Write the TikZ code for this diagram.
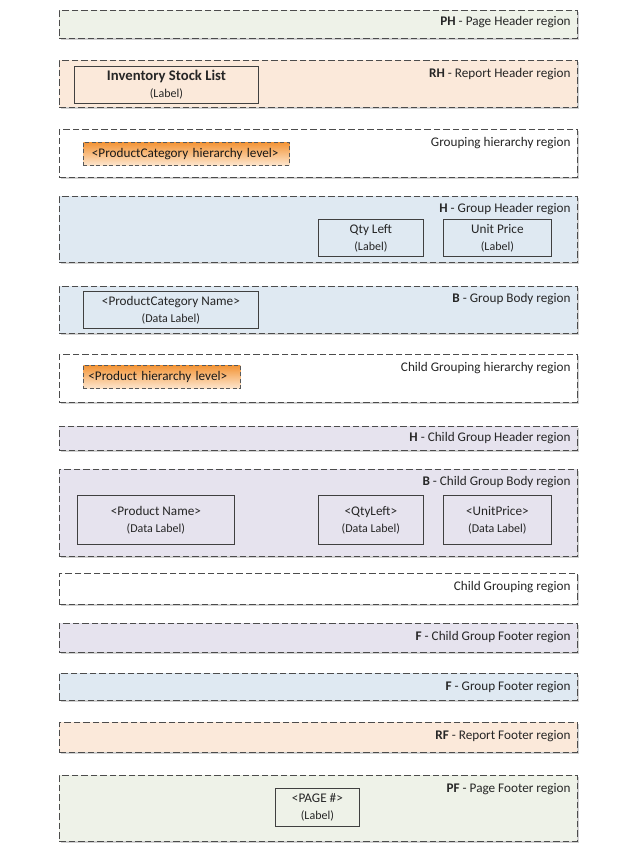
\documentclass[tikz,border=0pt]{standalone}
\usepackage{fontspec}
\setmainfont{Carlito}
\usetikzlibrary{shadows}
\definecolor{pagefill}{HTML}{EEF2E8}
\definecolor{reportfill}{HTML}{FBE9DA}
\definecolor{groupfill}{HTML}{DFE9F2}
\definecolor{childfill}{HTML}{E6E3EE}
\definecolor{levtop}{HTML}{F39436}
\definecolor{levbot}{HTML}{FDE6CE}
\tikzstyle{region} = [rectangle, draw=black!70, dash pattern=on 6.5pt off 3pt, line width=0.8pt,
	anchor=north west, inner sep=0pt, minimum width=518pt,
	drop shadow={shadow xshift=1.2pt, shadow yshift=-1.5pt, fill=black!30, opacity=0.6}]
\tikzstyle{regionlabel} = [anchor=east, inner sep=0pt, text=black!85, font=\fontsize{13.2}{15}\selectfont]
\tikzstyle{field} = [rectangle, draw=black!75, line width=0.8pt, anchor=north west, inner sep=0pt,
	align=center, text=black!85, font=\fontsize{13.2}{17}\selectfont]
\tikzstyle{level} = [rectangle, draw=black!65, dash pattern=on 4pt off 2.5pt, line width=0.8pt,
	top color=levtop, bottom color=levbot, anchor=north west, inner ysep=0pt, align=left,
	minimum height=23pt, text=black!90, font=\fontsize{13.2}{15}\selectfont]
\newcommand{\sublabel}[1]{{\fontsize{12}{17}\selectfont #1}}

\begin{document}
\begin{tikzpicture}[x=1pt, y=-1pt]
	\useasboundingbox (0,0) rectangle (641,850);
	%Regions
	\node [region, fill=pagefill, minimum height=28pt] (ph) at (59,10) {};
	\node [region, fill=reportfill, minimum height=47pt] (rh) at (59,60) {};
	\node [region, fill=white, minimum height=48pt] (grp) at (59,129) {};
	\node [region, fill=groupfill, minimum height=66pt] (gh) at (59,196) {};
	\node [region, fill=groupfill, minimum height=47pt] (gb) at (59,286) {};
	\node [region, fill=white, minimum height=48pt] (cgrp) at (59,354) {};
	\node [region, fill=childfill, minimum height=24pt] (cgh) at (59,426) {};
	\node [region, fill=childfill, minimum height=87pt] (cgb) at (59,469) {};
	\node [region, fill=white, minimum height=31pt] (cg) at (59,573) {};
	\node [region, fill=childfill, minimum height=29pt] (cgf) at (59,623) {};
	\node [region, fill=groupfill, minimum height=27pt] (gf) at (59,673) {};
	\node [region, fill=reportfill, minimum height=30pt] (rf) at (59,722) {};
	\node [region, fill=pagefill, minimum height=66pt] (pf) at (59,775) {};
	
	%Region labels
	\node [regionlabel] (phlbl) at ([xshift=-7pt, yshift=-12.5pt]ph.north east) {\textbf{PH} - Page Header region};
	\node [regionlabel] (rhlbl) at ([xshift=-7pt, yshift=-14pt]rh.north east) {\textbf{RH} - Report Header region};
	\node [regionlabel] (grplbl) at ([xshift=-7pt, yshift=-14pt]grp.north east) {Grouping hierarchy region};
	\node [regionlabel] (ghlbl) at ([xshift=-7pt, yshift=-13.5pt]gh.north east) {\textbf{H} - Group Header region};
	\node [regionlabel] (gblbl) at ([xshift=-7pt, yshift=-13pt]gb.north east) {\textbf{B} - Group Body region};
	\node [regionlabel] (cgrplbl) at ([xshift=-7pt, yshift=-14pt]cgrp.north east) {Child Grouping hierarchy region};
	\node [regionlabel] (cghlbl) at ([xshift=-7pt, yshift=-12.5pt]cgh.north east) {\textbf{H} - Child Group Header region};
	\node [regionlabel] (cgblbl) at ([xshift=-7pt, yshift=-13pt]cgb.north east) {\textbf{B} - Child Group Body region};
	\node [regionlabel] (cglbl) at ([xshift=-7pt, yshift=-14pt]cg.north east) {Child Grouping region};
	\node [regionlabel] (cgflbl) at ([xshift=-7pt, yshift=-14pt]cgf.north east) {\textbf{F} - Child Group Footer region};
	\node [regionlabel] (gflbl) at ([xshift=-7pt, yshift=-14pt]gf.north east) {\textbf{F} - Group Footer region};
	\node [regionlabel] (rflbl) at ([xshift=-7pt, yshift=-14pt]rf.north east) {\textbf{RF} - Report Footer region};
	\node [regionlabel] (pflbl) at ([xshift=-7pt, yshift=-14pt]pf.north east) {\textbf{PF} - Page Footer region};
	
	%Fields
	\node [field, minimum width=184pt, minimum height=37pt] (title) at (74,66)
		{{\fontsize{14.7}{17}\selectfont\textbf{Inventory Stock List}}\\\sublabel{(Label)}};
	\node [level, inner xsep=8.5pt, text width=189pt] (catlevel) at (83,142) {<ProductCategory hierarchy level>};
	\node [field, minimum width=105pt, minimum height=37pt] (qtyhead) at (318,219) {Qty Left\\\sublabel{(Label)}};
	\node [field, minimum width=108pt, minimum height=37pt] (pricehead) at (443,219) {Unit Price\\\sublabel{(Label)}};
	\node [field, minimum width=175pt, minimum height=37pt] (catname) at (83,291) {<ProductCategory Name>\\\sublabel{(Data Label)}};
	\node [level, inner xsep=5pt, text width=147pt] (prodlevel) at (83,365) {<Product hierarchy level>};
	\node [field, minimum width=157pt, minimum height=49pt] (prodname) at (77,495) {<Product Name>\\\sublabel{(Data Label)}};
	\node [field, minimum width=105pt, minimum height=49pt] (qty) at (318,495) {<QtyLeft>\\\sublabel{(Data Label)}};
	\node [field, minimum width=108pt, minimum height=49pt] (price) at (443,495) {<UnitPrice>\\\sublabel{(Data Label)}};
	\node [field, minimum width=84pt, minimum height=38pt] (page) at (275,788) {<PAGE \#>\\\sublabel{(Label)}};
\end{tikzpicture}
\end{document}
